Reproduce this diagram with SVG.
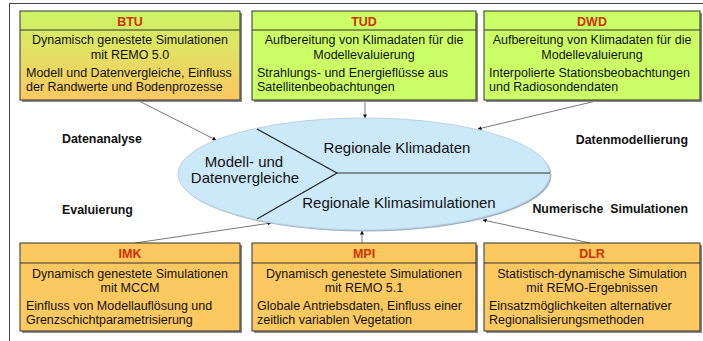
<svg xmlns="http://www.w3.org/2000/svg" width="703" height="341" viewBox="0 0 703 341">
<defs>
<linearGradient id="gBTU" x1="0" y1="0" x2="0" y2="1">
<stop offset="0" stop-color="#ccf566"/>
<stop offset="1" stop-color="#fcc860"/>
</linearGradient>
<marker id="ah" viewBox="0 0 10 10" refX="9" refY="5" markerWidth="4" markerHeight="4" orient="auto" markerUnits="userSpaceOnUse">
<path d="M0,0 L10,5 L0,10 z" fill="#111"/>
</marker>
<style>
.shadow{fill:#8a8a8a;}
.box{stroke:#333;stroke-width:1;}
.green{fill:#ccff66;}
.orange{fill:#fcc860;}
.div{stroke:#333;stroke-width:1;}
.hdr{font-family:"Liberation Sans",Arial,sans-serif;font-size:12.5px;font-weight:bold;fill:#cc3300;text-anchor:middle;}
.t{font-family:"Liberation Sans",Arial,sans-serif;font-size:12.5px;fill:#111;}
.c{text-anchor:middle;}
.lab{font-family:"Liberation Sans",Arial,sans-serif;font-size:12.4px;font-weight:bold;fill:#111;white-space:pre;}
.el{font-family:"Liberation Sans",Arial,sans-serif;font-size:15px;fill:#111;text-anchor:middle;}
.conn{stroke:#555;stroke-width:0.8;fill:none;marker-end:url(#ah);}
</style>
</defs>
<rect x="0" y="0" width="703" height="341" fill="#ffffff"/>
<rect x="9.5" y="3.5" width="700" height="345" fill="none" stroke="#444" stroke-width="1"/>

<g id="connectors">
<line class="conn" x1="139" y1="101" x2="216" y2="140"/>
<line class="conn" x1="365" y1="101" x2="365" y2="118"/>
<line class="conn" x1="596" y1="101" x2="478" y2="129"/>
<line class="conn" x1="135" y1="243" x2="271" y2="223"/>
<line class="conn" x1="362" y1="243" x2="362" y2="231"/>
<line class="conn" x1="590" y1="243" x2="483" y2="220"/>
</g>

<g id="center">
<ellipse cx="365.5" cy="175.5" rx="186" ry="56" fill="#9fb2c2"/>
<ellipse cx="364" cy="174" rx="186" ry="56" fill="#cce9fa" stroke="#b9d3e3" stroke-width="1"/>
<polyline points="257,129 337,173 257,219" fill="none" stroke="#222" stroke-width="1.2"/>
<line x1="337" y1="173" x2="550" y2="173" stroke="#333" stroke-width="1.2"/>
<text class="el" x="244" y="167">Modell- und</text>
<text class="el" x="245" y="183">Datenvergleiche</text>
<text class="el" x="397" y="153">Regionale Klimadaten</text>
<text class="el" x="399" y="208">Regionale Klimasimulationen</text>
</g>

<g id="labels">
<text class="lab" x="62" y="143">Datenanalyse</text>
<text class="lab" x="62" y="214">Evaluierung</text>
<text class="lab" x="688" y="144" text-anchor="end">Datenmodellierung</text>
<text class="lab" x="688" y="213" text-anchor="end">Numerische  Simulationen</text>
</g>

<g id="BTU">
<rect class="shadow" x="22" y="13" width="220" height="89"/>
<rect class="box" x="20" y="11" width="220" height="89" fill="url(#gBTU)"/>
<line class="div" x1="20" y1="30" x2="240" y2="30"/>
<text class="hdr" x="130" y="26">BTU</text>
<text class="t c" x="130" y="44">Dynamisch genestete Simulationen</text>
<text class="t c" x="130" y="59">mit REMO 5.0</text>
<text class="t" x="26" y="77">Modell und Datenvergleiche, Einfluss</text>
<text class="t" x="26" y="91">der Randwerte und Bodenprozesse</text>
</g>

<g id="TUD">
<rect class="shadow" x="254" y="13" width="224" height="89"/>
<rect class="box green" x="252" y="11" width="224" height="89"/>
<line class="div" x1="252" y1="30" x2="476" y2="30"/>
<text class="hdr" x="364" y="26">TUD</text>
<text class="t c" x="364" y="44">Aufbereitung von Klimadaten für die</text>
<text class="t c" x="364" y="59">Modellevaluierung</text>
<text class="t" x="257" y="77">Strahlungs- und Energieflüsse aus</text>
<text class="t" x="257" y="91">Satellitenbeobachtungen</text>
</g>

<g id="DWD">
<rect class="shadow" x="486" y="13" width="216" height="89"/>
<rect class="box green" x="484" y="11" width="216" height="89"/>
<line class="div" x1="484" y1="30" x2="700" y2="30"/>
<text class="hdr" x="592" y="26">DWD</text>
<text class="t c" x="592" y="44">Aufbereitung von Klimadaten für die</text>
<text class="t c" x="592" y="59">Modellevaluierung</text>
<text class="t" x="489" y="77">Interpolierte Stationsbeobachtungen</text>
<text class="t" x="489" y="91">und Radiosondendaten</text>
</g>

<g id="IMK">
<rect class="shadow" x="22" y="245" width="220" height="88"/>
<rect class="box orange" x="20" y="243" width="220" height="88"/>
<line class="div" x1="20" y1="263" x2="240" y2="263"/>
<text class="hdr" x="130" y="258">IMK</text>
<text class="t c" x="130" y="278">Dynamisch genestete Simulationen</text>
<text class="t c" x="130" y="292">mit MCCM</text>
<text class="t" x="26" y="310">Einfluss von Modellauflösung und</text>
<text class="t" x="26" y="324">Grenzschichtparametrisierung</text>
</g>

<g id="MPI">
<rect class="shadow" x="254" y="245" width="224" height="88"/>
<rect class="box orange" x="252" y="243" width="224" height="88"/>
<line class="div" x1="252" y1="263" x2="476" y2="263"/>
<text class="hdr" x="364" y="258">MPI</text>
<text class="t c" x="364" y="278">Dynamisch genestete Simulationen</text>
<text class="t c" x="364" y="292">mit REMO 5.1</text>
<text class="t" x="257" y="310">Globale Antriebsdaten, Einfluss einer</text>
<text class="t" x="257" y="324">zeitlich variablen Vegetation</text>
</g>

<g id="DLR">
<rect class="shadow" x="486" y="245" width="216" height="88"/>
<rect class="box orange" x="484" y="243" width="216" height="88"/>
<line class="div" x1="484" y1="263" x2="700" y2="263"/>
<text class="hdr" x="592" y="258">DLR</text>
<text class="t c" x="592" y="278">Statistisch-dynamische Simulation</text>
<text class="t c" x="592" y="292">mit REMO-Ergebnissen</text>
<text class="t" x="489" y="310">Einsatzmöglichkeiten alternativer</text>
<text class="t" x="489" y="324">Regionalisierungsmethoden</text>
</g>
</svg>
